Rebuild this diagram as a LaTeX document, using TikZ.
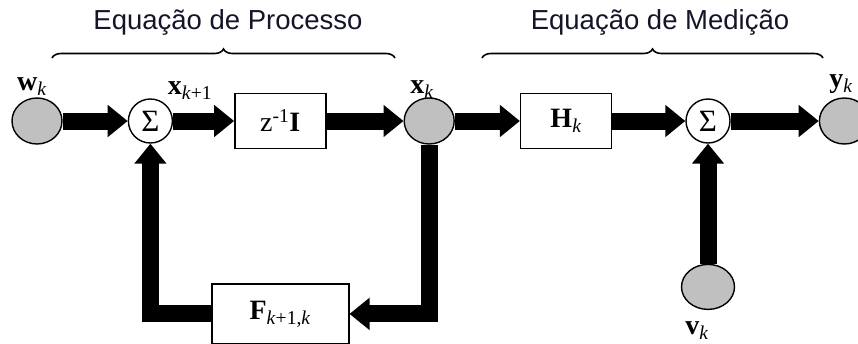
\documentclass[tikz,border=0pt]{standalone}
\usepackage{fontspec}
\setmainfont{Liberation Serif}
\newfontfamily\titlefont{Liberation Sans}
\usetikzlibrary{positioning,shapes.geometric,arrows.meta,decorations.pathreplacing}
\definecolor{signalgray}{HTML}{C0C0C0}
\definecolor{titleink}{HTML}{15152A}
\pgfdeclarelayer{background}
\pgfsetlayers{background,main}
\newcommand{\vecsym}[2]{\textbf{#1}\textsubscript{#2}}

\begin{document}
\begin{tikzpicture}[
        x=1pt, y=-1pt,
        signal/.style={ellipse, draw, line width=1.4pt, fill=signalgray, minimum width=50pt, minimum height=46pt, inner sep=0pt},
        sumnode/.style={circle, draw, line width=1.4pt, fill=white, minimum size=44pt, inner sep=0pt, font=\fontsize{31}{34}\selectfont},
        block/.style={rectangle, draw, line width=1.4pt, fill=white, minimum width=91pt, minimum height=55pt, inner sep=0pt, font=\fontsize{28}{32}\selectfont},
        lbl/.style={inner sep=0pt, font=\fontsize{28}{32}\selectfont},
        heading/.style={inner sep=0pt, font=\titlefont\fontsize{27.5}{31}\selectfont, text=titleink},
        arrow/.style={line width=17pt, line join=miter, -{Triangle[length=20pt, width=31pt]}},
        brace/.style={decorate, decoration={brace, amplitude=9pt}, line width=1.6pt}
    ]
        \useasboundingbox (0,0) rectangle (858,343);

        \node[signal] (wk) at (37,121) {};
        \node[sumnode, right=65pt of wk] (sum1) {Σ};
        \node[block, right=61pt of sum1] (delay) {z\textsuperscript{-1}\textbf{I}};
        \node[signal, right=77pt of delay] (xk) {};
        \node[block, right=65pt of xk] (Hk) {\vecsym{H}{\textit{k}}};
        \node[sumnode, right=73pt of Hk] (sum2) {Σ};
        \node[signal, right=88pt of sum2] (yk) {};
        \node[block, minimum width=137pt, minimum height=60pt, below=134pt of delay] (Fk) {\vecsym{F}{\textit{k}+1,\textit{k}}};
        \node[signal, minimum width=53pt, minimum height=45pt, below=120pt of sum2] (vk) {};

        % signal labels
        \node[lbl] (wklbl) at (32,87) {\vecsym{w}{\textit{k}}};
        \node[lbl] (xk1lbl) at (190,91) {\vecsym{x}{\textit{k}+1}};
        \node[lbl] (xklbl) at (422,90) {\vecsym{x}{\textit{k}}};
        \node[lbl] (yklbl) at (841,84) {\vecsym{y}{\textit{k}}};
        \node[lbl] (vklbl) at (697,331) {\vecsym{v}{\textit{k}}};

        % braces and headings
        \coordinate (proc-l) at (52,58);
        \coordinate (proc-r) at (395,58);
        \coordinate (meas-l) at (482,58);
        \coordinate (meas-r) at (823,58);
        \draw[brace] (proc-l) -- (proc-r);
        \draw[brace] (meas-l) -- (meas-r);
        \node[heading] (proctitle) at (228,22) {Equação de Processo};
        \node[heading] (meastitle) at (660,22) {Equação de Medição};

        \begin{pgfonlayer}{background}
            \draw[arrow] (wk) -- (sum1);
            \draw[arrow] (sum1) -- (delay);
            \draw[arrow] (delay) -- (xk);
            \draw[arrow] (xk) -- (Hk);
            \draw[arrow] (Hk) -- (sum2);
            \draw[arrow] (sum2) -- (yk);
            \draw[arrow] (xk) |- (Fk);
            \draw[arrow] (Fk) -| (sum1);
            \draw[arrow] (vk) -- (sum2);
        \end{pgfonlayer}
    \end{tikzpicture}
\end{document}
